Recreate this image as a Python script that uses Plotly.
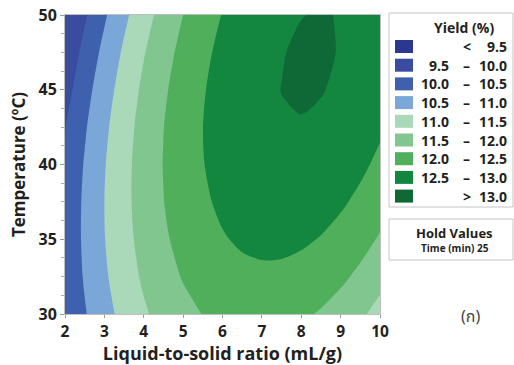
import plotly.graph_objects as go

# ---- data ----
ratio = [2, 2.5, 3, 3.5, 4, 4.5, 5, 5.5, 6, 6.5, 7, 7.5, 8, 8.5, 9, 9.5, 10]
temperature = [30, 32.5, 35, 37.5, 40, 42.5, 45, 47.5, 50]
yield_t30 = [10.048, 10.462, 10.831, 11.156, 11.437, 11.672, 11.864, 12.011, 12.113, 12.171, 12.184, 12.153, 12.077, 11.957, 11.793, 11.583, 11.330]
yield_t325 = [10.113, 10.544, 10.930, 11.272, 11.569, 11.821, 12.029, 12.193, 12.312, 12.386, 12.416, 12.402, 12.343, 12.239, 12.091, 11.899, 11.662]
yield_t35 = [10.136, 10.584, 10.986, 11.345, 11.658, 11.928, 12.152, 12.333, 12.468, 12.560, 12.606, 12.609, 12.566, 12.479, 12.348, 12.172, 11.952]
yield_t375 = [10.116, 10.580, 11.000, 11.375, 11.705, 11.991, 12.232, 12.429, 12.582, 12.690, 12.753, 12.772, 12.746, 12.676, 12.562, 12.403, 12.199]
yield_t40 = [10.055, 10.535, 10.972, 11.363, 11.710, 12.013, 12.271, 12.485, 12.654, 12.778, 12.858, 12.894, 12.885, 12.832, 12.734, 12.591, 12.404]
yield_t425 = [9.985, 10.448, 10.901, 11.310, 11.673, 11.993, 12.267, 12.498, 12.684, 12.825, 12.922, 12.974, 12.982, 12.945, 12.864, 12.738, 12.568]
yield_t45 = [9.804, 10.318, 10.788, 11.213, 11.593, 11.929, 12.221, 12.468, 12.670, 12.828, 12.941, 13.004, 13.035, 13.015, 12.950, 12.841, 12.688]
yield_t475 = [9.616, 10.147, 10.633, 11.074, 11.472, 11.824, 12.133, 12.396, 12.615, 12.790, 12.920, 12.985, 13.047, 13.044, 12.985, 12.903, 12.767]
yield_t50 = [9.52, 9.932, 10.435, 10.893, 11.307, 11.676, 12.001, 12.282, 12.517, 12.709, 12.856, 12.948, 12.993, 13.019, 12.988, 12.922, 12.802]

levels = [9.5, 10.0, 10.5, 11.0, 11.5, 12.0, 12.5, 13.0]
band_colors = ["#2C3791", "#3A4CA0", "#3F61AD", "#7AA7D8", "#AAD9B9",
               "#81C68F", "#4FAF5A", "#13873F", "#0F6937"]
x_ticks = [2, 3, 4, 5, 6, 7, 8, 9, 10]
y_ticks = [30, 35, 40, 45, 50]
hold_label = "Time (min) 25"

z = [yield_t30, yield_t325, yield_t35, yield_t375, yield_t40,
     yield_t425, yield_t45, yield_t475, yield_t50]

n = len(band_colors) - 1
cscale = []
for k, c in enumerate(band_colors):
    lo = max(0.0, (k - 0.5) / n)
    hi = min(1.0, (k + 0.5) / n)
    cscale.append([lo, c])
    cscale.append([hi, c])

FONT = "Open Sans, Noto Sans, DejaVu Sans, sans-serif"
TXT = "#231F20"

fig = go.Figure(go.Contour(
    x=ratio, y=temperature, z=z,
    contours=dict(start=levels[0], end=levels[-1], size=levels[1] - levels[0],
                  coloring="fill", showlines=False),
    line=dict(width=0, smoothing=0.8),
    colorscale=cscale, showscale=False, hoverinfo="skip",
))

# layout geometry (pixels)
W, H = 514, 365
L, R, T, B = 65, 134, 15, 51
PX0, PX1, PY0, PY1 = L, W - R, T, H - B


def fx(px):
    return (px - PX0) / (PX1 - PX0)


def fy(py):
    return (PY1 - py) / (PY1 - PY0)


shapes = []
annotations = []

# legend box
shapes.append(dict(type="rect", xref="paper", yref="paper",
                   x0=fx(389), x1=fx(513), y0=fy(207), y1=fy(13),
                   line=dict(color="#C4C4C4", width=1), fillcolor="white"))
annotations.append(dict(xref="paper", yref="paper", x=fx(464), y=fy(28),
                        text="<b>Yield (%)</b>", showarrow=False,
                        xanchor="center", yanchor="middle",
                        font=dict(family=FONT, size=14, color=TXT)))
row0, dy = 46.5, 18.7
for i, col in enumerate(band_colors):
    yc = row0 + i * dy
    shapes.append(dict(type="rect", xref="paper", yref="paper",
                       x0=fx(395), x1=fx(413), y0=fy(yc + 6.5), y1=fy(yc - 6.5),
                       line=dict(width=0), fillcolor=col))
    if i == 0:
        lo, mid, hi = None, "<", f"{levels[0]:.1f}"
    elif i == len(band_colors) - 1:
        lo, mid, hi = None, ">", f"{levels[-1]:.1f}"
    else:
        lo, mid, hi = f"{levels[i-1]:.1f}", "–", f"{levels[i]:.1f}"
    if lo is not None:
        annotations.append(dict(xref="paper", yref="paper", x=fx(451), y=fy(yc),
                                text=f"<b>{lo}</b>", showarrow=False,
                                xanchor="right", yanchor="middle",
                                font=dict(family=FONT, size=14, color=TXT)))
    annotations.append(dict(xref="paper", yref="paper", x=fx(467), y=fy(yc),
                            text=f"<b>{mid}</b>", showarrow=False,
                            xanchor="center", yanchor="middle",
                            font=dict(family=FONT, size=14, color=TXT)))
    annotations.append(dict(xref="paper", yref="paper", x=fx(509), y=fy(yc),
                            text=f"<b>{hi}</b>", showarrow=False,
                            xanchor="right", yanchor="middle",
                            font=dict(family=FONT, size=14, color=TXT)))

# hold values box
shapes.append(dict(type="rect", xref="paper", yref="paper",
                   x0=fx(389), x1=fx(513), y0=fy(260), y1=fy(219),
                   line=dict(color="#C4C4C4", width=1), fillcolor="white"))
annotations.append(dict(xref="paper", yref="paper", x=fx(454), y=fy(233),
                        text="<b>Hold Values</b>", showarrow=False,
                        xanchor="center", yanchor="middle",
                        font=dict(family=FONT, size=13, color=TXT)))
annotations.append(dict(xref="paper", yref="paper", x=fx(455), y=fy(248),
                        text=f"<b>{hold_label}</b>", showarrow=False,
                        xanchor="center", yanchor="middle",
                        font=dict(family=FONT, size=10, color=TXT)))
annotations.append(dict(xref="paper", yref="paper", x=fx(470), y=fy(317),
                        text="(ก)", showarrow=False,
                        xanchor="center", yanchor="middle",
                        font=dict(family="Noto Sans Thai, Noto Sans, DejaVu Sans, sans-serif",
                                  size=16, color="#444444")))

fig.update_layout(
    width=W, height=H,
    margin=dict(l=L, r=R, t=T, b=B, pad=0, autoexpand=False),
    paper_bgcolor="white", plot_bgcolor="white",
    shapes=shapes, annotations=annotations,
    font=dict(family=FONT, color=TXT),
    xaxis=dict(range=[2, 10], tickvals=x_ticks, ticks="outside", ticklen=3,
               tickcolor="#9A9A9A", showgrid=False, zeroline=False, automargin=False,
               showline=True, linecolor="#BDBDBD", linewidth=1, mirror=True,
               tickfont=dict(family=FONT, size=15.5, color=TXT, weight="bold"),
               title=dict(text="<b>Liquid-to-solid ratio (mL/g)</b>", standoff=8,
                          font=dict(family=FONT, size=18, color=TXT))),
    yaxis=dict(range=[30, 50], tickvals=y_ticks, ticks="outside", ticklen=4,
               tickcolor="#9A9A9A", showgrid=False, zeroline=False, automargin=False,
               showline=True, linecolor="#BDBDBD", linewidth=1, mirror=True,
               minor=dict(dtick=1.25, ticks="outside", ticklen=3, tickcolor="#B0B0B0"),
               tickfont=dict(family=FONT, size=16, color=TXT, weight="bold"),
               title=dict(text="<b>Temperature (ºC)</b>", standoff=8,
                          font=dict(family=FONT, size=17, color=TXT))),
)

fig.write_html("out.html", config={"displayModeBar": False},
               post_script="document.body.style.margin='0';document.body.style.overflow='hidden';")
